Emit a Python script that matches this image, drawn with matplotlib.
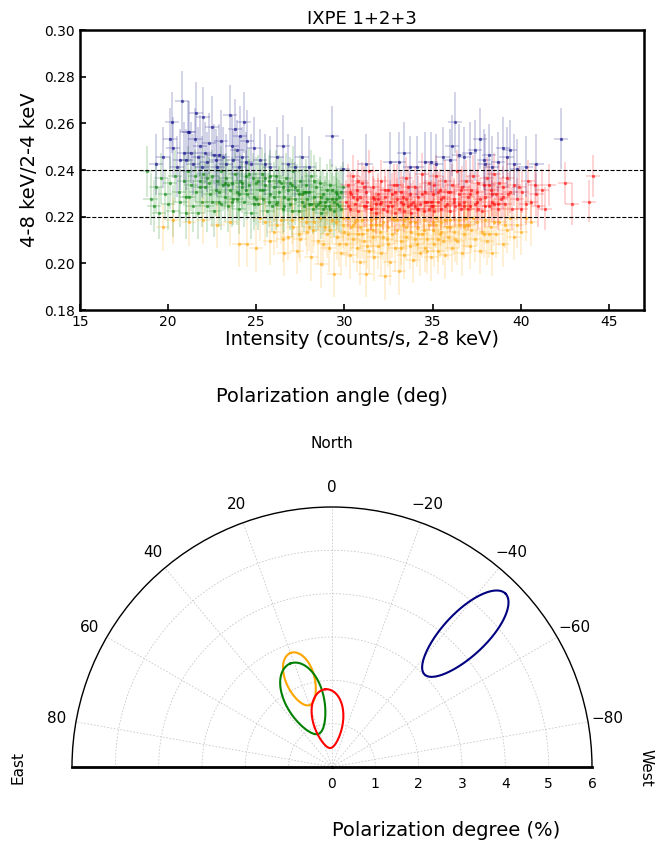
import numpy as np
import matplotlib
matplotlib.use("Agg")
import matplotlib.pyplot as plt

# ---------------- data: hardness ratio vs intensity ----------------
blue_x = [19.3,19.7,20.1,20.2,20.3,20.5,20.7,20.8,20.9,21.0,21.1,21.2,21.3,21.4,21.5,21.6,21.7,21.8,21.9,22.0,
          22.1,22.2,22.3,22.5,22.6,22.7,22.8,22.9,23.0,23.1,23.3,23.5,23.6,23.7,23.8,23.9,24.0,24.1,24.2,24.3,
          24.4,24.5,24.7,24.9,25.2,25.5,25.8,26.2,26.5,26.8,27.2,27.6,28.0,29.3,29.9,
          31.2,32.6,33.1,33.4,33.7,34.1,34.6,34.9,35.2,35.6,36.0,36.1,36.3,36.5,36.8,37.1,37.4,37.7,37.9,38.0,
          38.2,38.4,38.7,39.0,39.2,39.4,39.6,39.8,40.3,40.9,42.3]
blue_y = [0.2425,0.2455,0.2535,0.2605,0.2495,0.2415,0.2445,0.2695,0.2475,0.2445,0.2565,0.2565,0.2475,0.2425,0.2535,0.2645,0.2455,0.2505,0.2415,0.2625,
          0.2475,0.2435,0.2515,0.2585,0.2465,0.2445,0.2415,0.2465,0.2525,0.2455,0.2425,0.2635,0.2505,0.2445,0.2575,0.2485,0.2415,0.2545,0.2455,0.2605,
          0.2435,0.2525,0.2425,0.2495,0.2445,0.2425,0.2415,0.2455,0.2505,0.2425,0.2415,0.2455,0.2415,0.2545,0.2405,
          0.2425,0.2435,0.2435,0.2475,0.2415,0.2415,0.2435,0.2435,0.2425,0.2455,0.2445,0.2505,0.2605,0.2465,0.2455,0.2475,0.2485,0.2535,0.2445,0.2425,
          0.2465,0.2415,0.2435,0.2495,0.2455,0.2485,0.2425,0.2405,0.2415,0.2425,0.2535]

green_x = [18.8,19.0,19.2,19.3,19.5,19.6,19.8,20.0,20.1,20.3,20.4,20.6,20.7,20.9,21.0,21.1,21.2,21.3,21.4,21.5,
           21.6,21.7,21.8,21.9,22.0,22.1,22.2,22.3,22.4,22.5,22.6,22.7,22.8,22.9,23.0,23.1,23.2,23.3,23.4,23.5,
           23.6,23.7,23.8,23.9,24.0,24.1,24.2,24.3,24.4,24.5,24.6,24.7,24.8,24.9,25.0,
           25.1,25.2,25.3,25.4,25.5,25.6,25.7,25.8,25.9,26.0,26.1,26.2,26.3,26.4,26.5,26.6,26.7,26.8,26.9,27.0,
           27.1,27.2,27.3,27.4,27.5,27.6,27.7,27.8,27.9,28.0,28.1,28.2,28.3,28.4,28.5,28.6,28.7,28.8,28.9,29.0,
           29.1,29.2,29.3,29.4,29.5,29.6,29.7,29.8,29.9,
           22.2,23.4,24.6,25.4,26.1,26.9,27.6,28.3,28.9,29.5,27.0,25.8,24.0,23.0,28.6,29.2,26.5,27.8,25.0,29.8,
           21.0,21.8,22.5,23.2,23.9,24.4,24.9,25.5,26.0,26.6,27.2,27.7,28.1,28.7,29.3,29.7,22.9,24.2,25.7,26.3,
           27.4,28.4,29.0,29.6,23.6,25.1,26.8,28.0,28.8,29.4]
green_y = [0.2395,0.2275,0.2245,0.2325,0.2215,0.2365,0.2295,0.2255,0.2345,0.2225,0.2375,0.2305,0.2265,0.2355,0.2215,0.2395,0.2285,0.2335,0.2245,0.2375,
           0.2305,0.2215,0.2355,0.2265,0.2385,0.2325,0.2245,0.2345,0.2295,0.2375,0.2225,0.2315,0.2355,0.2265,0.2395,0.2335,0.2285,0.2365,0.2245,0.2315,
           0.2345,0.2275,0.2385,0.2305,0.2235,0.2355,0.2325,0.2265,0.2375,0.2295,0.2335,0.2215,0.2365,0.2285,0.2345,
           0.2255,0.2315,0.2385,0.2275,0.2335,0.2225,0.2355,0.2295,0.2245,0.2325,0.2375,0.2265,0.2305,0.2345,0.2235,0.2285,0.2365,0.2315,0.2255,0.2335,
           0.2395,0.2275,0.2315,0.2225,0.2355,0.2295,0.2245,0.2335,0.2275,0.2305,0.2375,0.2235,0.2285,0.2325,0.2255,0.2345,0.2215,0.2295,0.2265,0.2315,
           0.2245,0.2335,0.2275,0.2225,0.2305,0.2255,0.2285,0.2235,0.2325,
           0.2365,0.2335,0.2385,0.2315,0.2255,0.2345,0.2265,0.2355,0.2245,0.2275,0.2225,0.2375,0.2295,0.2255,0.2265,0.2235,0.2325,0.2305,0.2275,0.2305,
           0.2285,0.2325,0.2265,0.2345,0.2275,0.2315,0.2255,0.2365,0.2285,0.2245,0.2325,0.2305,0.2255,0.2285,0.2315,0.2245,0.2305,0.2345,0.2265,0.2355,
           0.2295,0.2245,0.2275,0.2295,0.2265,0.2355,0.2275,0.2255,0.2235,0.2265]

red_x = [30.1,30.2,30.3,30.4,30.5,30.6,30.7,30.8,30.9,31.0,31.1,31.2,31.3,31.4,31.5,31.6,31.7,31.8,31.9,32.0,
         32.1,32.2,32.3,32.4,32.5,32.6,32.7,32.8,32.9,33.0,33.1,33.2,33.3,33.4,33.5,33.6,33.7,33.8,33.9,34.0,
         34.1,34.2,34.3,34.4,34.5,34.6,34.7,34.8,34.9,35.0,35.1,35.2,35.3,35.4,35.5,35.6,35.7,35.8,35.9,36.0,
         36.1,36.2,36.3,36.4,36.5,36.6,36.7,36.8,36.9,37.0,37.1,37.2,37.3,37.4,37.5,37.6,37.7,37.8,37.9,38.0,
         38.1,38.2,38.3,38.4,38.5,38.6,38.7,38.8,38.9,39.0,39.1,39.2,39.3,39.5,39.6,39.8,40.0,40.1,40.3,40.4,
         40.6,40.8,40.9,41.0,41.2,41.4,41.6,42.5,42.9,43.9,44.1,
         30.3,30.8,31.2,31.6,32.1,32.5,33.0,33.3,33.8,34.2,34.6,35.0,35.5,36.0,36.5,37.0,37.5,38.0,38.5,39.0,
         30.2,30.7,31.1,31.5,31.9,32.3,32.7,33.2,33.6,34.0,34.4,34.8,35.3,35.7,36.2,36.6,37.1,37.6,38.2,38.7,
         39.4,39.9,30.5,31.8,33.5,35.1,36.8,38.4,32.9,34.9]
red_y = [0.2265,0.2335,0.2235,0.2295,0.2375,0.2255,0.2315,0.2225,0.2285,0.2345,0.2245,0.2305,0.2265,0.2395,0.2235,0.2325,0.2275,0.2215,0.2295,0.2255,
         0.2355,0.2235,0.2285,0.2225,0.2315,0.2265,0.2245,0.2335,0.2215,0.2275,0.2235,0.2305,0.2255,0.2225,0.2365,0.2245,0.2295,0.2215,0.2265,0.2325,
         0.2235,0.2285,0.2255,0.2385,0.2225,0.2305,0.2265,0.2345,0.2245,0.2295,0.2225,0.2375,0.2265,0.2315,0.2235,0.2285,0.2355,0.2255,0.2305,0.2225,
         0.2335,0.2275,0.2245,0.2395,0.2295,0.2235,0.2325,0.2265,0.2355,0.2285,0.2245,0.2315,0.2375,0.2255,0.2305,0.2345,0.2275,0.2225,0.2335,0.2285,
         0.2365,0.2245,0.2315,0.2265,0.2385,0.2295,0.2235,0.2345,0.2275,0.2325,0.2255,0.2365,0.2295,0.2235,0.2335,0.2275,0.2235,0.2305,0.2255,0.2355,
         0.2265,0.2335,0.2295,0.2245,0.2315,0.2235,0.2335,0.2345,0.2255,0.2265,0.2375,
         0.2305,0.2355,0.2245,0.2285,0.2265,0.2245,0.2335,0.2285,0.2255,0.2235,0.2265,0.2245,0.2275,0.2305,0.2255,0.2235,0.2265,0.2245,0.2255,0.2285,
         0.2245,0.2275,0.2325,0.2235,0.2275,0.2315,0.2295,0.2265,0.2325,0.2245,0.2295,0.2235,0.2305,0.2245,0.2265,0.2315,0.2295,0.2235,0.2335,0.2255,
         0.2305,0.2325,0.2285,0.2255,0.2275,0.2335,0.2245,0.2295,0.2305,0.2265]

orange_x = [19.7,20.3,21.2,22.0,22.8,23.5,24.0,24.5,25.0,25.5,26.0,26.4,26.8,27.1,27.3,27.6,27.9,28.1,28.3,28.5,
            28.7,28.9,29.1,29.3,29.4,29.6,29.8,29.9,
            30.0,30.1,30.2,30.3,30.4,30.5,30.6,30.7,30.8,30.9,31.0,31.1,31.2,31.3,31.4,31.5,31.6,31.7,31.8,31.9,
            32.0,32.1,32.2,32.3,32.4,32.5,32.6,32.7,32.8,32.9,33.0,33.1,33.2,33.3,33.4,33.5,33.6,33.7,33.8,33.9,
            34.0,34.1,34.2,34.3,34.4,34.5,34.6,34.7,34.8,34.9,35.0,35.1,35.2,35.3,35.4,35.5,35.6,35.7,35.8,35.9,
            36.0,36.1,36.2,36.4,36.5,36.7,36.8,36.9,37.1,37.2,37.4,37.5,37.7,37.8,38.0,38.1,38.3,38.4,38.6,38.8,
            39.0,39.2,39.4,39.6,39.8,40.0,40.3,40.6,
            25.2,25.8,26.2,26.6,27.0,27.4,27.8,28.2,28.6,29.0,29.5,29.7,
            30.5,31.0,31.5,32.0,32.5,33.0,33.5,34.0,34.5,35.0,35.5,36.0,36.5,37.0,
            27.5,28.0,28.8,29.2,30.2,30.7,31.3,31.8,32.2,32.7,33.2,33.7,34.2,34.7,35.2,35.7,36.3,36.8,37.3,37.9,
            38.5,39.1,29.9,31.6,33.4,35.3,36.9,38.2,26.5,30.9]
orange_y = [0.2155,0.2185,0.2175,0.2185,0.2165,0.2175,0.2085,0.2085,0.2065,0.2175,0.2135,0.2185,0.2115,0.2155,0.2055,0.2195,0.2135,0.2025,0.2175,0.2095,
            0.1995,0.2155,0.2065,0.2185,0.1955,0.2115,0.2045,0.2165,
            0.2135,0.2085,0.2195,0.2035,0.2155,0.2105,0.2175,0.2065,0.2125,0.2005,0.2185,0.2095,0.1955,0.2145,0.2055,0.2165,0.2115,0.2025,0.2195,0.2075,
            0.2135,0.2045,0.2175,0.1945,0.2105,0.2155,0.2005,0.2125,0.2185,0.2065,0.2145,0.1965,0.2095,0.2165,0.2035,0.2115,0.2195,0.2075,0.2135,0.2015,
            0.2175,0.2085,0.2155,0.2045,0.2125,0.2185,0.2065,0.2105,0.2165,0.2025,0.2145,0.2085,0.2195,0.2055,0.2125,0.2175,0.2095,0.2035,0.2155,0.2115,
            0.2185,0.2065,0.2135,0.2095,0.2165,0.2045,0.2125,0.2195,0.2075,0.2145,0.2105,0.2175,0.2055,0.2135,0.2185,0.2095,0.2155,0.2045,0.2125,0.2175,
            0.2085,0.2145,0.2195,0.2115,0.2165,0.2135,0.2195,0.2175,
            0.2195,0.2095,0.2165,0.2045,0.2185,0.2125,0.2175,0.2145,0.2195,0.2125,0.2175,0.2085,
            0.2165,0.2125,0.2185,0.2165,0.2085,0.2185,0.2155,0.2105,0.2145,0.2175,0.2135,0.2155,0.2185,0.2165,
            0.2105,0.2155,0.2085,0.2145,0.2125,0.2185,0.2075,0.2165,0.2115,0.2195,0.2065,0.2175,0.2125,0.2055,0.2165,0.2185,0.2105,0.2155,0.2195,0.2125,
            0.2175,0.2165,0.2195,0.2145,0.2185,0.2105,0.2165,0.2125,0.2105,0.2155]

# typical 1-sigma uncertainties per group
x_err = 0.4
y_err = {"navy": 0.013, "green": 0.011, "red": 0.009, "orange": 0.010}

thresholds = [0.22, 0.24]

# ---------------- data: polarization contours ----------------
# contours are ellipses in the Q/U plane, centred at (PD, PA), with a radial
# semi-axis (pd_halfwidth) and a tangential semi-axis (qu_halfwidth), in % PD
contour_colors = ["navy", "orange", "green", "red"]
pd_center = [4.34, 2.16, 1.70, 1.12]      # %
pa_center = [-45.0, 19.9, 22.0, 4.8]      # deg
pd_halfwidth = [1.32, 0.64, 0.875, 0.68]  # %
qu_halfwidth = [1.0, 0.66, 0.88, 0.70]    # %

theta_ticks = [-80, -60, -40, -20, 0, 20, 40, 60, 80]
r_ticks = [0, 1, 2, 3, 4, 5, 6]

# ---------------- figure ----------------
W, H = 671, 844
fig = plt.figure(figsize=(W / 100, H / 100), dpi=100)

ax = fig.add_axes([80 / W, 1 - 310 / H, 564 / W, 280 / H])
groups = [(green_x, green_y, "green"), (orange_x, orange_y, "orange"),
          (red_x, red_y, "red"), (blue_x, blue_y, "navy")]
for gx, gy, col in groups:
    ax.errorbar(gx, gy, xerr=x_err, yerr=y_err[col], fmt="none", ecolor=col,
                alpha=0.2, elinewidth=1.2, zorder=1)
    ax.plot(gx, gy, "o", color=col, ms=2.4, alpha=0.6, mec="none", zorder=2)
for t in thresholds:
    ax.axhline(t, color="black", ls="--", lw=0.8, zorder=3)
ax.set_xlim(15, 47)
ax.set_ylim(0.18, 0.30)
ax.set_xticks([15, 20, 25, 30, 35, 40, 45])
ax.set_yticks([0.18, 0.20, 0.22, 0.24, 0.26, 0.28, 0.30])
ax.tick_params(direction="in", length=4, width=1.2, labelsize=10)
for s in ax.spines.values():
    s.set_linewidth(1.8)
ax.set_title("IXPE 1+2+3", fontsize=13, pad=4)
ax.set_xlabel("Intensity (counts/s, 2-8 keV)", fontsize=14, labelpad=1)
ax.set_ylabel("4-8 keV/2-4 keV", fontsize=14, labelpad=4)

# polar panel: the half disc sits in the middle of a square box;
# choose the box so the disc spans x 72..592, y 507..767 px
R = 260
cx, cy = 332, 767
pax = fig.add_axes([(cx - R) / W, 1 - (cy + R / 2) / H, 2 * R / W, 2 * R / H], projection="polar")
pax.set_theta_zero_location("N")
pax.set_theta_direction(1)
pax.set_thetamin(-90)
pax.set_thetamax(90)
pax.set_ylim(0, 6)
pax.set_thetagrids(theta_ticks, labels=[str(a).replace("-", "\u2212") for a in theta_ticks], fontsize=11)
pax.set_rgrids(r_ticks, labels=[str(r) for r in r_ticks], fontsize=11)
pax.grid(True, color="#c8c8c8", ls=(0, (2, 2)), lw=0.6)
pax.spines["polar"].set_linewidth(1.0)
pax.spines["start"].set_linewidth(2.0)
pax.spines["end"].set_linewidth(2.0)

t = np.linspace(0, 2 * np.pi, 600)
for col, p0, a0, dp, dq in zip(contour_colors, pd_center, pa_center, pd_halfwidth, qu_halfwidth):
    phi = np.deg2rad(2 * a0)
    q = p0 * np.cos(phi) + dp * np.cos(t) * np.cos(phi) - dq * np.sin(t) * np.sin(phi)
    u = p0 * np.sin(phi) + dp * np.cos(t) * np.sin(phi) + dq * np.sin(t) * np.cos(phi)
    r = np.hypot(q, u)
    th = 0.5 * np.arctan2(u, q)
    pax.plot(th, r, color=col, lw=1.5)

fig.text(332 / W, 1 - 397 / H, "Polarization angle (deg)", ha="center", va="center", fontsize=14)
fig.text(332 / W, 1 - 444 / H, "North", ha="center", va="center", fontsize=11)
fig.text(18 / W, 1 - 768 / H, "East", ha="center", va="center", rotation=90, fontsize=11)
fig.text(646 / W, 1 - 768 / H, "West", ha="center", va="center", rotation=-90, fontsize=11)
fig.text(446 / W, 1 - 830 / H, "Polarization degree (%)", ha="center", va="center", fontsize=14)

fig.savefig("out.png", dpi=100)
